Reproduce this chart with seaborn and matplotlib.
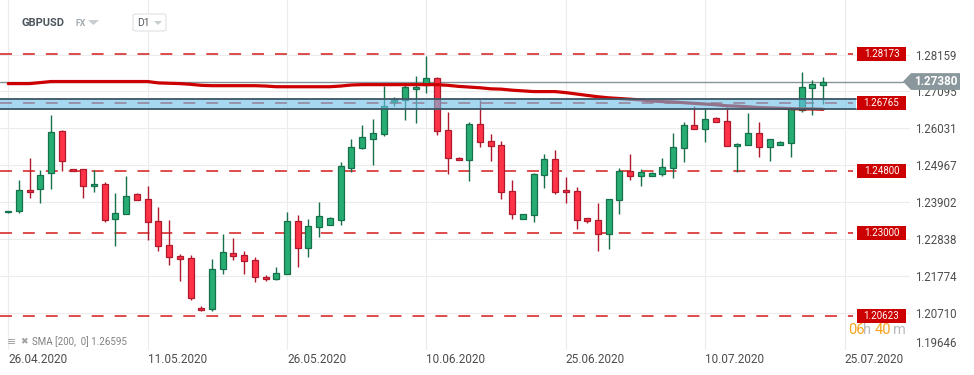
import numpy as np
import pandas as pd
import matplotlib.pyplot as plt
import seaborn as sns
from matplotlib.patches import Rectangle, Polygon, FancyBboxPatch

sns.set_theme(style="white")
plt.rcParams["font.family"] = ["Roboto", "DejaVu Sans"]

# daily GBPUSD candles (xStation D1, Sunday sessions included)
opens = [
    1.2361, 1.2364, 1.2424, 1.2427, 1.2473, 1.2594, 1.2485, 1.2485, 1.2436, 1.2442,
    1.2341, 1.2355, 1.2413, 1.2398, 1.2335, 1.2266, 1.2234, 1.2228, 1.2085, 1.2081,
    1.2197, 1.2243, 1.2237, 1.2223, 1.2175, 1.2168, 1.2182, 1.2335, 1.2257, 1.2318,
    1.2323, 1.2338, 1.2488, 1.2545, 1.2573, 1.2588, 1.2680, 1.2684, 1.2717, 1.2729,
    1.2747, 1.2597, 1.2517, 1.2511, 1.2615, 1.2566, 1.2554, 1.2421, 1.2341, 1.2352,
    1.2468, 1.2514, 1.2424, 1.2421, 1.2344, 1.2338, 1.2297, 1.2395, 1.2479, 1.2465,
    1.2465, 1.2470, 1.2488, 1.2545, 1.2612, 1.2600, 1.2632, 1.2623, 1.2551, 1.2554,
    1.2589, 1.2548, 1.2554, 1.2560, 1.2655, 1.2718, 1.2727]
highs = [
    1.2366, 1.2454, 1.2518, 1.2483, 1.2642, 1.2598, 1.2485, 1.2485, 1.2483, 1.2447,
    1.2417, 1.2466, 1.2416, 1.2437, 1.2376, 1.2339, 1.2240, 1.2238, 1.2091, 1.2226,
    1.2297, 1.2287, 1.2249, 1.2232, 1.2179, 1.2203, 1.2362, 1.2353, 1.2342, 1.2391,
    1.2347, 1.2506, 1.2572, 1.2613, 1.2630, 1.2726, 1.2692, 1.2733, 1.2754, 1.2812,
    1.2751, 1.2650, 1.2519, 1.2621, 1.2685, 1.2587, 1.2567, 1.2454, 1.2355, 1.2473,
    1.2529, 1.2541, 1.2463, 1.2434, 1.2344, 1.2388, 1.2398, 1.2489, 1.2529, 1.2486,
    1.2476, 1.2518, 1.2590, 1.2621, 1.2667, 1.2661, 1.2635, 1.2665, 1.2560, 1.2647,
    1.2621, 1.2571, 1.2567, 1.2659, 1.2765, 1.2741, 1.2751]
lows = [
    1.2360, 1.2360, 1.2403, 1.2389, 1.2429, 1.2480, 1.2479, 1.2403, 1.2420, 1.2334,
    1.2265, 1.2355, 1.2395, 1.2282, 1.2250, 1.2210, 1.2164, 1.2109, 1.2075, 1.2077,
    1.2184, 1.2222, 1.2184, 1.2161, 1.2162, 1.2165, 1.2182, 1.2204, 1.2233, 1.2291,
    1.2323, 1.2325, 1.2478, 1.2542, 1.2498, 1.2582, 1.2668, 1.2628, 1.2617, 1.2706,
    1.2585, 1.2472, 1.2511, 1.2452, 1.2550, 1.2510, 1.2400, 1.2343, 1.2341, 1.2334,
    1.2432, 1.2415, 1.2389, 1.2314, 1.2331, 1.2250, 1.2256, 1.2357, 1.2455, 1.2438,
    1.2465, 1.2467, 1.2461, 1.2507, 1.2600, 1.2565, 1.2620, 1.2551, 1.2477, 1.2554,
    1.2519, 1.2510, 1.2554, 1.2519, 1.2649, 1.2642, 1.2672]
closes = [
    1.2366, 1.2424, 1.2419, 1.2468, 1.2592, 1.2508, 1.2479, 1.2436, 1.2442, 1.2338,
    1.2358, 1.2407, 1.2395, 1.2332, 1.2263, 1.2231, 1.2225, 1.2115, 1.2078, 1.2197,
    1.2246, 1.2234, 1.2220, 1.2174, 1.2168, 1.2185, 1.2335, 1.2257, 1.2321, 1.2349,
    1.2344, 1.2494, 1.2548, 1.2577, 1.2589, 1.2667, 1.2686, 1.2721, 1.2721, 1.2747,
    1.2594, 1.2517, 1.2511, 1.2615, 1.2563, 1.2551, 1.2419, 1.2355, 1.2355, 1.2470,
    1.2514, 1.2419, 1.2419, 1.2338, 1.2335, 1.2297, 1.2398, 1.2479, 1.2465, 1.2476,
    1.2473, 1.2491, 1.2548, 1.2612, 1.2600, 1.2629, 1.2620, 1.2551, 1.2557, 1.2589,
    1.2548, 1.2571, 1.2563, 1.2659, 1.2721, 1.2730, 1.2738]
sma200 = [
    1.2732, 1.2732, 1.2732, 1.2735, 1.2738, 1.2738, 1.2738, 1.2738, 1.2738, 1.2738,
    1.2738, 1.2738, 1.2738, 1.2738, 1.2734, 1.2733, 1.2732, 1.2730, 1.2727, 1.2726,
    1.2726, 1.2726, 1.2726, 1.2726, 1.2725, 1.2723, 1.2723, 1.2723, 1.2723, 1.2723,
    1.2723, 1.2725, 1.2728, 1.2729, 1.2729, 1.2729, 1.2729, 1.2729, 1.2729, 1.2729,
    1.2729, 1.2727, 1.2724, 1.2722, 1.2720, 1.2717, 1.2716, 1.2713, 1.2711, 1.2709,
    1.2709, 1.2709, 1.2706, 1.2702, 1.2698, 1.2694, 1.2691, 1.2689, 1.2687, 1.2685,
    1.2682, 1.2680, 1.2679, 1.2677, 1.2675, 1.2673, 1.2671, 1.2668, 1.2667, 1.2665,
    1.2663, 1.2662, 1.2661, 1.2660, 1.2659, 1.2659, 1.2658]

levels = [1.28173, 1.26765, 1.24800, 1.23000, 1.20623]
zone = [1.2658, 1.2687]
last_price = 1.27380
sma_last = 1.26595
price_ticks = [1.19646, 1.20710, 1.21774, 1.22838, 1.23902, 1.24967, 1.26031, 1.27095, 1.28159]
date_labels = ["26.04.2020", "11.05.2020", "26.05.2020", "10.06.2020",
               "25.06.2020", "10.07.2020", "25.07.2020"]
date_pos = [0, 13, 26, 39, 52, 65, 78]  # candle index under each date label

W, H = 974, 375
AX_W, AX_H = 910, 350
PX = 1 / 3468  # price units per pixel

fig = plt.figure(figsize=(W / 100, H / 100), dpi=100)
ax = fig.add_axes([0, (H - AX_H) / H, AX_W / W, AX_H / H])
ax.set_xlim(-0.77, 84.1)
ax.set_ylim(1.19638, 1.29731)

df = pd.DataFrame({"o": opens, "h": highs, "l": lows, "c": closes, "sma": sma200})
df["i"] = np.arange(len(df))
up = df.c >= df.o
fill = np.where(up, "#27ad74", "#ff3347")
edge = np.where(up, "#16704a", "#b0192c")

ax.vlines(df.i, df.l, df.h, colors=edge, lw=1.0, zorder=3)
ax.bar(df.i, (df.c - df.o).abs().clip(lower=0.0003), bottom=df[["o", "c"]].min(axis=1),
       width=0.56, color=fill, edgecolor=edge, linewidth=0.9, zorder=4)

sns.lineplot(data=df, x="i", y="sma", color="#cc0000", lw=2.3, ax=ax, zorder=5, legend=False)

# support / resistance levels
for lv in levels:
    ax.axhline(lv, xmin=0, xmax=853 / AX_W, color="#d41a1a", lw=1.1, dashes=(7.8, 7.2), zorder=2)
    ax.add_patch(Rectangle((857 / AX_W, lv - 7 * PX), 49 / AX_W, 14 * PX, transform=ax.get_yaxis_transform(),
                           facecolor="#cc0000", edgecolor="none", clip_on=False, zorder=8))
    ax.text(881.5 / AX_W, lv, f"{lv:.5f}", transform=ax.get_yaxis_transform(), color="white",
            fontsize=7, ha="center", va="center", zorder=9, clip_on=False)

# zone around 1.26765
ax.axhspan(zone[0], zone[1], xmin=0, xmax=856 / AX_W, facecolor=(107 / 255, 193 / 255, 233 / 255),
           alpha=0.6, lw=0, zorder=6)
for z in zone:
    ax.axhline(z, xmin=0, xmax=856 / AX_W, color="#3d5663", lw=1.3, zorder=7)

# current price line and tag
ax.axhline(last_price, xmin=0, xmax=903 / AX_W, color="#85939a", lw=1.0, zorder=2.5)
hh = 8.4 * PX
tag = [(903 / AX_W, last_price), (911 / AX_W, last_price + hh), (960 / AX_W, last_price + hh),
       (960 / AX_W, last_price - hh), (911 / AX_W, last_price - hh)]
ax.add_patch(Polygon(tag, closed=True, transform=ax.get_yaxis_transform(), facecolor="#8a979d",
                     edgecolor="none", clip_on=False, zorder=10))
ax.text(936 / AX_W, last_price, f"{last_price:.5f}", transform=ax.get_yaxis_transform(), color="white",
        fontsize=8.4, fontweight="bold", ha="center", va="center", zorder=11, clip_on=False)

# axes styling
ax.set_yticks(price_ticks, [f"{v:.5f}" for v in price_ticks])
ax.set_xticks(date_pos, date_labels)
ax.yaxis.tick_right()
ax.tick_params(axis="y", length=0, pad=4, labelsize=8.3, labelcolor="#4d4d4d")
ax.tick_params(axis="x", length=0, pad=2.5, labelsize=8.5, labelcolor="#4d4d4d")
for lbl in ax.get_xticklabels():
    lbl.set_ha("left")
ax.get_yticklabels()[0].set_va("bottom")
ax.grid(True, color="#ececec", lw=0.8)
ax.set_axisbelow(True)
for s in ax.spines.values():
    s.set_visible(False)
ax.set_xlabel("")
ax.set_ylabel("")


def fx(px):
    return px / W


def fy(py):
    return 1 - py / H


# header
fig.text(fx(21), fy(23), "GBPUSD", fontsize=8, fontweight="bold", color="#4b545b", va="center")
fig.text(fx(75), fy(24), "FX", fontsize=6.3, fontweight="bold", color="#a3abb0", va="center")
fig.patches.append(Polygon([(fx(88), fy(20)), (fx(99), fy(20)), (fx(93.5), fy(25))], closed=True,
                           transform=fig.transFigure, facecolor="#c8cdd0", edgecolor="none"))
fig.patches.append(FancyBboxPatch((fx(133), fy(31)), fx(33), 17 / H, boxstyle="round,pad=0,rounding_size=0.004",
                                  transform=fig.transFigure, facecolor="white", edgecolor="#dde1e4", lw=0.8))
fig.text(fx(137), fy(23), "D1", fontsize=7.5, color="#555b60", va="center")
fig.patches.append(Polygon([(fx(154), fy(21)), (fx(162), fy(21)), (fx(158), fy(25))], closed=True,
                           transform=fig.transFigure, facecolor="#c8cdd0", edgecolor="none"))

# indicator legend
fig.text(fx(7), fy(342), "≡", fontsize=8, color="#a0a0a0", va="center", family=["DejaVu Sans"])
fig.text(fx(20), fy(342), "✖", fontsize=6.5, color="#a0a0a0", va="center", family=["DejaVu Sans"])
fig.text(fx(32), fy(342), f"SMA [200,  0] {sma_last:.5f}", fontsize=7, color="#808080", va="center")

# candle countdown
for x, s, c in [(848, "06", "#f7a21b"), (863.5, "h", "#b8bcc0"), (875, "40", "#f7a21b"), (892.5, "m", "#b8bcc0")]:
    fig.text(fx(x), fy(330), s, fontsize=10.5, color=c, va="center")

fig.savefig("out.png", dpi=100)
